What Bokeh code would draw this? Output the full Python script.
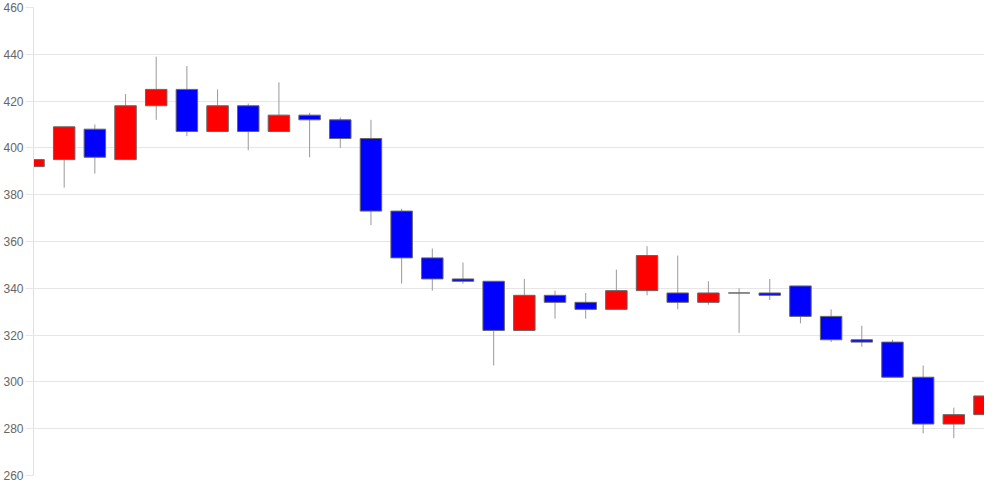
from bokeh.plotting import figure
from bokeh.models import Range1d, ColumnDataSource, FixedTicker
from bokeh.embed import file_html
from bokeh.resources import INLINE

opens  = [392, 395, 408, 395, 418, 425, 407, 418, 407, 414, 412, 404, 373, 353, 344, 343,
          322, 337, 334, 331, 339, 338, 334, 338, 338, 341, 328, 318, 317, 302, 282, 286]
highs  = [399, 409, 410, 423, 439, 435, 425, 419, 428, 415, 413, 412, 374, 357, 351, 343,
          344, 339, 338, 348, 358, 354, 343, 340, 344, 341, 331, 324, 318, 307, 289, 295]
lows   = [381, 383, 389, 395, 412, 405, 407, 399, 407, 396, 400, 367, 342, 339, 342, 307,
          322, 327, 327, 331, 337, 331, 333, 321, 335, 325, 317, 315, 302, 278, 276, 278]
closes = [395, 409, 396, 418, 425, 407, 418, 407, 414, 412, 404, 373, 353, 344, 343, 322,
          337, 334, 331, 339, 354, 334, 338, 338, 337, 328, 318, 317, 302, 282, 286, 294]
y_ticks = [260, 280, 300, 320, 340, 360, 380, 400, 420, 440, 460]

idx = list(range(len(opens)))
colors = ["#ff0000" if c > o else ("#0000ff" if c < o else "#444444") for o, c in zip(opens, closes)]
tops = [max(o, c) for o, c in zip(opens, closes)]
bots = [min(o, c) for o, c in zip(opens, closes)]

src = ColumnDataSource(dict(x=idx, o=opens, h=highs, l=lows, c=closes,
                            top=tops, bottom=bots, color=colors))

p = figure(width=984, height=484, output_backend="svg", toolbar_location=None,
           x_range=Range1d(0, 31.0), y_range=Range1d(260, 460),
           min_border_left=0, min_border_right=0, min_border_top=7, min_border_bottom=9)
p.outline_line_color = None
p.xaxis.visible = False
p.xgrid.visible = False
p.ygrid.grid_line_color = "#e6e6e6"
p.yaxis.ticker = FixedTicker(ticks=y_ticks)
p.yaxis.axis_line_color = "#e0e0e0"
p.yaxis.major_tick_line_color = "#e6e6e6"
p.yaxis.major_tick_out = 8
p.yaxis.major_tick_in = 0
p.yaxis.minor_tick_line_color = None
p.yaxis.major_label_standoff = 2
p.yaxis.major_label_text_color = "#666666"
p.yaxis.major_label_text_font = "Liberation Sans"
p.yaxis.major_label_text_font_size = "12px"

p.segment(x0="x", y0="h", x1="x", y1="l", source=src, line_color="#999999", line_width=1)
p.vbar(x="x", top="top", bottom="bottom", width=0.7, source=src,
       fill_color="color", line_color="#666666", line_width=1)

open("out.html", "w").write(file_html(p, INLINE))
